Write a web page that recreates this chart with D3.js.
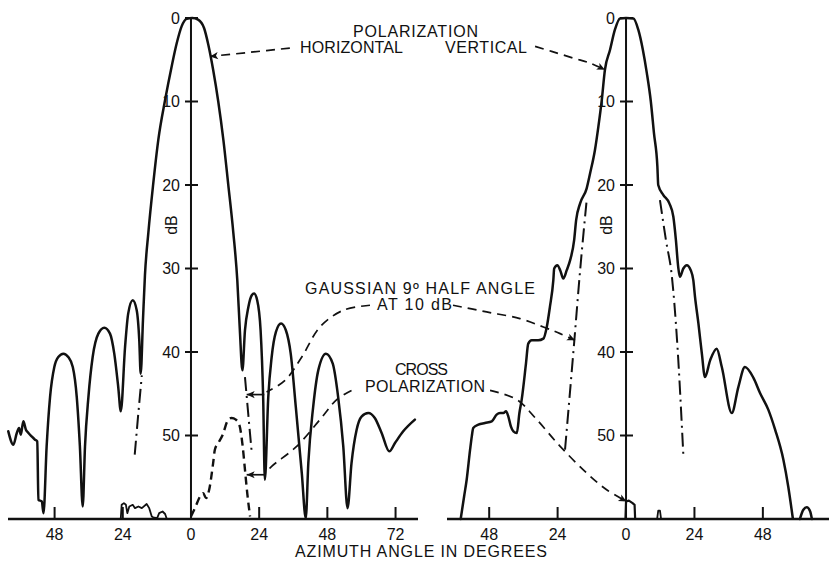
<!DOCTYPE html>
<html>
<head>
<meta charset="utf-8">
<script src="https://cdn.jsdelivr.net/npm/d3@7"></script>
<style>
  html, body { margin: 0; padding: 0; background: #fff; }
  svg { display: block; }
  text { font-family: "Liberation Sans", Arial, Helvetica, sans-serif; fill: #111; }
</style>
</head>
<body>
<svg id="chart" width="829" height="562"></svg>
<script>
// ---------------- DATA (azimuth deg, level dB below peak) ----------------
// Left panel: horizontal polarization, co-polar pattern
const horizPattern = [
  [-64.3,49.5],[-62.5,51.1],[-61.3,49.7],[-60.5,49.1],[-59.9,49.9],[-59.0,48.3],[-58.1,49.3],[-57.2,49.7],
  [-56.1,50.1],[-54.9,50.5],[-54.1,50.7],[-53.7,57.7],[-52.5,57.9],[-51.9,59.3],
  [-50.8,51.3],[-49.6,45.4],[-48.1,41.8],[-46.7,40.6],[-44.9,40.2],[-43.2,40.6],[-41.6,41.8],[-40.2,45.4],[-39.1,51.3],[-38.1,58.5],
  [-37.3,51.3],[-36.1,45.4],[-34.6,40.6],[-32.6,37.8],[-30.5,37.1],[-28.5,37.8],[-27.0,40.2],[-25.6,44.2],[-24.7,47.1],
  [-23.2,39.4],[-22.1,35.4],[-20.5,33.8],[-19.1,35.0],[-18.2,38.6],[-17.7,42.6],
  [-16.9,36.2],[-16.2,30.8],[-15.0,25.7],[-13.3,19.9],[-11.5,14.6],[-9.1,9.8],[-6.8,5.8],[-5.0,3.0],[-3.3,1.0],[-1.5,0.1],[0.5,0],[2.5,0.2],
  [4.6,1.2],[6.1,3.2],[7.8,6.2],[9.6,10.0],[11.4,14.6],[13.1,19.9],[14.9,25.7],[16.3,31.4],[17.2,37.4],[18.1,42.2],
  [19.0,37.4],[20.2,34.6],[21.4,33.2],[22.2,33.0],[23.3,33.8],[24.5,37.4],[25.4,45.4],[26.0,55.3],
  [27.2,45.4],[28.4,40.6],[29.9,37.6],[31.7,36.6],[33.4,37.4],[35.1,40.2],[36.9,46.6],[39.0,54.5],[40.4,59.9],
  [41.3,53.3],[43.0,46.6],[44.8,42.2],[47.5,40.2],[49.9,41.4],[51.8,45.4],[53.6,51.3],[55.1,58.7],
  [56.5,53.3],[58.3,49.3],[60.1,47.7],[62.4,47.3],[64.7,47.9],[67.1,49.7],[69.8,51.9],[71.8,50.9],[74.7,49.5],[78.8,48.1]
];
// Left panel: cross polarization
const horizCross = [
  [0,59.7],[1.4,58.7],[3.2,57.3],[4.3,56.9],[5.3,57.5],[6.4,56.5],[7.8,53.3],[8.4,51.7],[9.6,50.9],[11.2,49.9],
  [12.8,48.3],[14.3,47.9],[15.8,48.1],[17.0,48.7],[18.2,51.3],[19.0,54.1],[19.8,56.9],[20.8,59.7]
];
const horizCrossLow = [
  [-24.7,59.9],[-24.4,58.3],[-23.6,58.1],[-22.9,58.3],[-22.4,59.3],[-21.7,58.5],[-20.5,58.3],[-19.7,58.7],
  [-18.5,58.5],[-17.3,58.7],[-15.6,58.2],[-14.7,58.7],[-13.8,59.7],[-13.3,59.8],[-11.9,59.9],[-11.2,59.3],
  [-10.0,59.1],[-9.1,59.4],[-8.6,59.9]
];
// Left panel: Gaussian 9 deg half angle reference (visible parts)
const horizGaussLeft  = [[-19.8,52.3],[-18.6,47.6],[-17.3,42.8]];
const horizGaussRight = [[19.0,43.0],[20.2,47.6],[21.4,52.1]];

// Right panel: vertical polarization, co-polar pattern
const vertPattern = [
  [-58.0,60],[-56.8,57.3],[-55.9,55.3],[-54.7,51.7],[-54.1,50.1],[-53.6,49.1],[-51.8,48.7],[-49.5,48.5],[-47.1,48.3],
  [-45.4,47.5],[-44.2,47.3],[-43.0,47.3],[-42.1,47.1],[-41.3,47.7],[-40.4,48.9],[-39.5,49.5],[-38.3,49.7],
  [-37.4,47.3],[-36.6,45.7],[-35.1,41.4],[-34.3,39.0],[-33.1,38.6],[-30.8,38.6],[-29.0,38.4],[-27.8,37.0],
  [-26.7,34.6],[-25.5,31.4],[-25.2,30.0],[-24.1,29.6],[-23.1,30.2],[-22.0,31.2],[-20.8,30.2],[-19.6,29.0],
  [-18.2,26.6],[-17.5,24.2],[-16.1,22.2],[-13.8,20.4],[-12.6,18.6],[-10.9,15.8],[-9.7,13.0],[-8.5,9.8],
  [-7.4,6.2],[-5.6,3.8],[-3.9,1.4],[-2.1,0.05],[0,0],[2.6,0.05],[4.3,1.4],[5.9,3.8],[7.3,6.6],[8.7,10.0],
  [9.8,13.8],[11.0,17.8],[11.3,20.0],[13.1,21.2],[15.2,22.2],[16.6,23.8],[17.5,26.6],[18.3,29.8],[18.9,31.0],
  [20.1,30.0],[21.3,29.6],[22.7,30.2],[23.6,31.4],[24.2,33.4],[25.4,36.6],[26.6,40.2],[27.7,43.0],
  [29.5,41.0],[31.8,39.6],[33.6,41.8],[37.1,47.3],[39.4,44.2],[41.7,41.8],[44.7,43.1],[47.0,44.9],
  [49.9,46.9],[52.3,49.3],[55.2,52.9],[56.9,56.1],[58.5,59.9]
];
const vertTail = [[61.0,60],[62.2,58.9],[63.4,58.6],[64.6,59.1],[65.2,60]];
// Right panel: cross polarization
const vertCross  = [[-0.2,60],[0,57.9],[1.0,57.8],[2.3,58.1],[3.0,58.3],[3.2,60]];
const vertCross2 = [[10.9,60],[11.3,59.0],[11.9,59.0],[12.3,60]];
// Right panel: Gaussian reference (visible parts)
const vertGaussLeft  = [[-13.8,21.8],[-16.1,30.2],[-18.2,38.9],[-21.4,51.7]];
const vertGaussRight = [[11.9,21.8],[14.0,26.6],[16.1,31.0],[17.9,38.6],[20.1,52.3]];

// Ticks
const dbTicks = [0, 10, 20, 30, 40, 50];
const leftAzTicks = [-48, -24, 0, 24, 48, 72];
const rightAzTicks = [-48, -24, 0, 24, 48];

// ---------------- CHART ----------------
const svg = d3.select("#chart");
const ink = "#111";

const y = d3.scaleLinear().domain([0, 60]).range([18, 519]);
const xL = d3.scaleLinear().domain([-64.4, 79.9]).range([8, 418]);
const xR = d3.scaleLinear().domain([-62.8, 71.2]).range([447, 829]);

const defs = svg.append("defs");
defs.append("marker")
  .attr("id", "arrow").attr("viewBox", "0 0 10 10")
  .attr("refX", 10).attr("refY", 5)
  .attr("markerWidth", 11).attr("markerHeight", 8)
  .attr("markerUnits", "userSpaceOnUse").attr("orient", "auto")
  .append("path").attr("d", "M0,0.5 L10,5 L0,9.5 L2.5,5 Z").attr("fill", ink);

function drawPanel(x, ticks) {
  const g = svg.append("g");
  // baseline
  g.append("line").attr("x1", x.range()[0]).attr("x2", x.range()[1])
    .attr("y1", y(60)).attr("y2", y(60)).attr("stroke", ink).attr("stroke-width", 2.4);
  // vertical dB axis
  g.append("line").attr("x1", x(0)).attr("x2", x(0))
    .attr("y1", y(0) - 1).attr("y2", y(60)).attr("stroke", ink).attr("stroke-width", 2);
  // dB ticks
  g.selectAll(".yt").data(dbTicks).enter().append("line")
    .attr("x1", x(0) - 6).attr("x2", x(0) + 7)
    .attr("y1", d => y(d)).attr("y2", d => y(d))
    .attr("stroke", ink).attr("stroke-width", 2);
  g.selectAll(".yl").data(dbTicks).enter().append("text")
    .attr("x", x(0) - 11).attr("y", d => y(d)).attr("dy", "0.36em")
    .attr("text-anchor", "end").attr("font-size", 16).text(d => d);
  // dB label
  g.append("text").attr("transform", `translate(${x(0) - 14},${y(24.8)}) rotate(-90)`)
    .attr("text-anchor", "middle").attr("font-size", 16).text("dB");
  // azimuth ticks (upward)
  g.selectAll(".xt").data(ticks.filter(d => d !== 0)).enter().append("line")
    .attr("x1", d => x(d)).attr("x2", d => x(d))
    .attr("y1", y(60)).attr("y2", y(60) - 12)
    .attr("stroke", ink).attr("stroke-width", 2);
  g.selectAll(".xl").data(ticks).enter().append("text")
    .attr("x", d => x(d)).attr("y", 540)
    .attr("text-anchor", "middle").attr("font-size", 16).text(d => Math.abs(d));
  return g;
}

drawPanel(xL, leftAzTicks);
drawPanel(xR, rightAzTicks);

function curve(x, data, opts) {
  const line = d3.line().x(d => x(d[0])).y(d => y(d[1]))
    .curve(opts.curve || d3.curveMonotoneX);
  svg.append("path").datum(data).attr("d", line)
    .attr("fill", "none").attr("stroke", ink)
    .attr("stroke-width", opts.w || 2.4)
    .attr("stroke-linejoin", "round").attr("stroke-linecap", opts.cap || "round")
    .attr("stroke-dasharray", opts.dash || null);
}
function sortAz(a) { return a.slice().sort((p, q) => p[0] - q[0]); }

// Gaussian references (dash-dot)
curve(xL, horizGaussLeft, { curve: d3.curveLinear, w: 2, dash: "14,5,2,5", cap: "butt" });
curve(xL, horizGaussRight, { curve: d3.curveLinear, w: 2, dash: "14,5,2,5", cap: "butt" });
curve(xR, sortAz(vertGaussLeft), { curve: d3.curveMonotoneX, w: 2, dash: "14,5,2,5", cap: "butt" });
curve(xR, vertGaussRight, { curve: d3.curveMonotoneX, w: 2, dash: "14,5,2,5", cap: "butt" });

// Co-polar patterns
curve(xL, horizPattern, { w: 2.5 });
curve(xR, vertPattern, { w: 2.5 });
curve(xR, vertTail, { w: 2.5 });

// Cross polarization
curve(xL, horizCross, { w: 2.4, dash: "8,5", cap: "butt" });
curve(xL, horizCrossLow, { curve: d3.curveLinear, w: 1.8 });
curve(xR, vertCross, { curve: d3.curveLinear, w: 2.2 });
curve(xR, vertCross2, { curve: d3.curveLinear, w: 1.8 });

// ---------------- ANNOTATIONS ----------------
function leader(x, pts, dashed, arrow) {
  const line = d3.line().x(d => x(d[0])).y(d => y(d[1])).curve(d3.curveCatmullRom);
  svg.append("path").datum(pts).attr("d", line)
    .attr("fill", "none").attr("stroke", ink).attr("stroke-width", 1.7)
    .attr("stroke-dasharray", dashed ? "9,6" : null)
    .attr("marker-end", arrow ? "url(#arrow)" : null);
}
// HORIZONTAL -> left main lobe
leader(xL, [[34.8,3.6],[21,4.1],[6.7,4.6]], true, true);
// VERTICAL -> right main lobe
leader(xR, [[-31.9,3.4],[-26.1,4.0],[-18.5,4.8],[-12.6,5.4],[-7.4,6.2]], true, true);
// AT 10 dB -> left panel gaussian
leader(xL, [[63.0,34.4],[53.6,35.0],[45.4,37.0],[39.0,40.6],[33.1,43.4],[26.6,44.8]], true, false);
leader(xL, [[25.8,45.1],[19.6,45.1]], false, true);
// CROSS POLARIZATION -> left panel cross pol
leader(xL, [[56.5,44.6],[51.3,45.7],[45.4,48.1],[37.2,51.3],[28.4,53.7],[26.2,54.5]], true, false);
leader(xL, [[26.2,54.7],[19.6,54.7]], false, true);
// AT 10 dB -> right panel gaussian
leader(xR, [[-60.7,34.4],[-48.9,35.2],[-37.2,36.0],[-29.0,37.0],[-23.1,37.8],[-17.9,38.6]], true, true);
// CROSS POLARIZATION -> right panel cross pol
leader(xR, [[-47.7,44.6],[-38.3,45.7],[-31.3,48.1],[-23.1,51.3],[-13.8,54.5],[-6.8,56.5],[0.2,57.9]], true, true);

const labels = [
  { t: "POLARIZATION", x: 353, y: 37, w: 125 },
  { t: "HORIZONTAL", x: 300, y: 52.5, w: 103 },
  { t: "VERTICAL", x: 445, y: 52.5, w: 82 },
  { t: "GAUSSIAN 9º HALF ANGLE", x: 305, y: 293.5, w: 230 },
  { t: "AT 10 dB", x: 377, y: 309.5, w: 75 },
  { t: "CROSS", x: 395, y: 375, w: 53 },
  { t: "POLARIZATION", x: 365, y: 392, w: 120 },
  { t: "AZIMUTH ANGLE IN DEGREES", x: 295, y: 557, w: 252 }
];
svg.selectAll(".lab").data(labels).enter().append("text")
  .attr("x", d => d.x).attr("y", d => d.y).attr("font-size", 16)
  .attr("textLength", d => d.w).attr("lengthAdjust", "spacing")
  .text(d => d.t);
</script>
</body>
</html>
